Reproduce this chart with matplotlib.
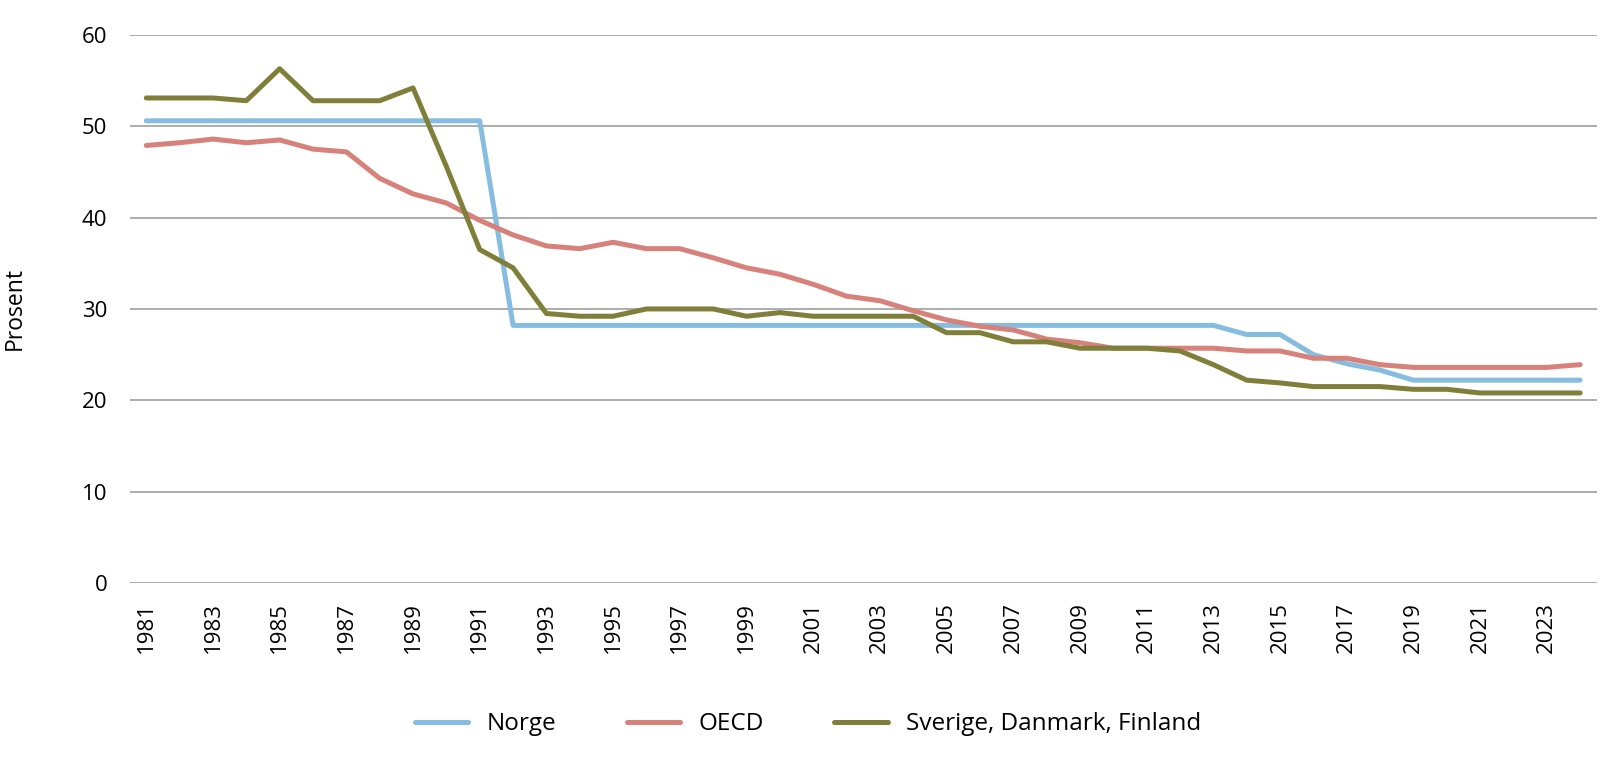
import numpy as np
import matplotlib
matplotlib.use("Agg")
import matplotlib.pyplot as plt

years = list(range(1981, 2025))

norge = [50.6] * 11 + [28.2] * 22 + [27.2, 27.2, 25.0, 24.0, 23.3,
                                     22.2, 22.2, 22.2, 22.2, 22.2, 22.2]

oecd = [47.9, 48.2, 48.6, 48.2, 48.5, 47.5, 47.2, 44.3, 42.6, 41.6,
        39.7, 38.1, 36.9, 36.6, 37.3, 36.6, 36.6, 35.6, 34.5, 33.8,
        32.7, 31.4, 30.9, 29.8, 28.8, 28.1, 27.7, 26.7, 26.3, 25.7,
        25.7, 25.7, 25.7, 25.4, 25.4, 24.6, 24.6, 23.9, 23.6, 23.6,
        23.6, 23.6, 23.6, 23.9]

nordic = [53.1, 53.1, 53.1, 52.8, 56.3, 52.8, 52.8, 52.8, 54.2, 45.6,
          36.5, 34.5, 29.5, 29.2, 29.2, 30.0, 30.0, 30.0, 29.2, 29.6,
          29.2, 29.2, 29.2, 29.2, 27.4, 27.4, 26.4, 26.4, 25.7, 25.7,
          25.7, 25.4, 23.9, 22.2, 21.9, 21.5, 21.5, 21.5, 21.2, 21.2,
          20.8, 20.8, 20.8, 20.8]

series_names = ["Norge", "OECD", "Sverige, Danmark, Finland"]
colors = ["#86bce0", "#d7817b", "#7f7f3a"]

plt.rcParams['font.family'] = ['Open Sans', 'DejaVu Sans']

fig = plt.figure(figsize=(16, 7.6), dpi=100)
ax = fig.add_axes([0.081, 0.233, 0.917, 0.721])

for vals, name, c in zip([norge, oecd, nordic], series_names, colors):
    ax.plot(years, vals, color=c, lw=3.6, label=name, solid_capstyle='round')

ax.set_xlim(1980.5, 2024.5)
ax.set_ylim(0, 60)
ax.set_yticks(range(0, 61, 10))
ax.set_xticks(years[::2])
ax.set_xticklabels([str(y) for y in years[::2]], rotation=90, fontsize=16)
ax.tick_params(axis='y', labelsize=16, length=0, pad=16)
ax.tick_params(axis='x', length=0, pad=14)
ax.grid(axis='y', color='#a6a6a6', lw=1.3)
ax.set_axisbelow(True)
for s in ax.spines.values():
    s.set_visible(False)
ax.set_ylabel("Prosent", fontsize=16.5, labelpad=40)

fig.legend(loc='center', bbox_to_anchor=(0.505, 0.047), ncol=3, frameon=False,
           fontsize=17.5, handlelength=2.2, columnspacing=2.9,
           handletextpad=0.75)

fig.savefig("out.png", dpi=100)
